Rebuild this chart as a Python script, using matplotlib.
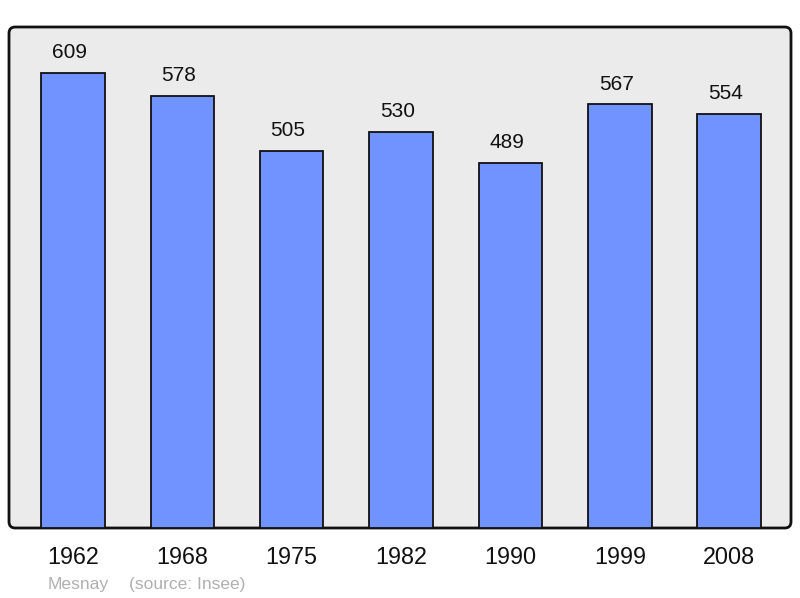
import matplotlib
matplotlib.use("Agg")
import matplotlib.pyplot as plt
from matplotlib.patches import FancyBboxPatch

years = ["1962", "1968", "1975", "1982", "1990", "1999", "2008"]
population = [609, 578, 505, 530, 489, 567, 554]
commune = "Mesnay"
source = "(source: Insee)"

plt.rcParams['font.family'] = ['Liberation Sans', 'DejaVu Sans']

fig = plt.figure(figsize=(8, 5.98), dpi=100)
ax = fig.add_axes([9/800, 1-528/598, 782/800, 501/598])
ax.set_facecolor('none')
for s in ax.spines.values():
    s.set_visible(False)

bg = FancyBboxPatch((0, 0), 1, 1, boxstyle="round,pad=0,rounding_size=0.008",
                    transform=ax.transAxes, facecolor='#ebebeb', edgecolor='#111111',
                    linewidth=2, zorder=0, clip_on=False, mutation_aspect=782/501)
ax.add_patch(bg)

x = list(range(len(years)))
ax.bar(x, population, width=0.58, color='#7093ff', edgecolor='#111111', linewidth=1.3, zorder=2)
for xi, v in zip(x, population):
    ax.annotate(str(v), (xi, v), xytext=(-2.6, 14.5), textcoords='offset points',
                ha='center', va='center', fontsize=15, color='#111111')

ax.set_xlim(-0.585, 6.565)
ax.set_ylim(0, 670.5)
ax.set_yticks([])
ax.set_xticks(x)
ax.set_xticklabels(years, fontsize=16.8, color='#111111')
ax.tick_params(axis='x', length=0, pad=13)

fig.text(48/800, 1-585/598, commune, fontsize=12.6, color='#b0b0b0', va='center', ha='left')
fig.text(129/800, 1-585/598, source, fontsize=12.5, color='#b0b0b0', va='center', ha='left')

fig.savefig('out.png', dpi=100)
